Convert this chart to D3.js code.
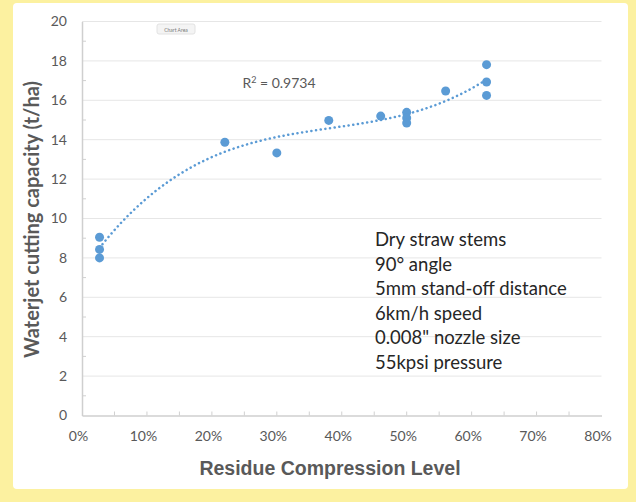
<!DOCTYPE html>
<meta charset="utf-8">
<style>
body { margin: 0; background: #fcf1a0; }
text { font-family: Lato, "Open Sans", sans-serif; }
.tick text { fill: #595959; font-size: 14px; }
.grid line { stroke: #e6e6e6; }
</style>
<svg width="636" height="502"></svg>
<script src="https://d3js.org/d3.v7.min.js"></script>
<script>

// residue compression level (fraction) and cutting capacity (t/ha)
var compression = [0.027, 0.027, 0.027, 0.22, 0.30, 0.38, 0.46, 0.50, 0.50, 0.50, 0.56, 0.623, 0.623, 0.623];
var capacity    = [9.05, 8.43, 8.0, 13.87, 13.33, 14.98, 15.2, 15.39, 15.1, 14.85, 16.47, 17.81, 16.93, 16.25];
var yTicks = [0, 2, 4, 6, 8, 10, 12, 14, 16, 18, 20];
var xTicks = [0, 0.1, 0.2, 0.3, 0.4, 0.5, 0.6, 0.7, 0.8];
var notes = ["Dry straw stems", "90° angle", "5mm stand-off distance", "6km/h speed", "0.008\" nozzle size", "55kpsi pressure"];
var rSquared = "0.9734";

var svg = d3.select("svg"),
    margin = {top: 21.5, right: 34.5, bottom: 86.5, left: 82},
    width = 636 - margin.left - margin.right,
    height = 502 - margin.top - margin.bottom;

svg.append("rect")
    .attr("x", 13).attr("y", 3).attr("width", 615).attr("height", 486)
    .attr("rx", 4).attr("fill", "#fff");

var x = d3.scaleLinear().domain([0, 0.8]).range([0, width]),
    y = d3.scaleLinear().domain([0, 20]).range([height, 0]);

var g = svg.append("g")
    .attr("transform", "translate(" + margin.left + "," + margin.top + ")");

g.append("g")
    .attr("class", "grid")
    .selectAll("line")
    .data(yTicks.slice(1))
    .enter().append("line")
      .attr("x1", 0).attr("x2", width)
      .attr("y1", function(d) { return y(d); })
      .attr("y2", function(d) { return y(d); });

// minor ticks (inside)
g.append("g").selectAll("line")
    .data(d3.range(1, 20, 2))
    .enter().append("line")
      .attr("x1", 0).attr("x2", 4)
      .attr("y1", function(d) { return y(d); }).attr("y2", function(d) { return y(d); })
      .attr("stroke", "#d0d0d0");
g.append("g").selectAll("line")
    .data(d3.range(0.05, 0.8, 0.05))
    .enter().append("line")
      .attr("x1", function(d) { return x(d); }).attr("x2", function(d) { return x(d); })
      .attr("y1", height).attr("y2", height - 4)
      .attr("stroke", "#d0d0d0");

var yAxis = g.append("g")
    .call(d3.axisLeft(y).tickValues(yTicks).tickSize(0).tickPadding(15));
yAxis.select(".domain").attr("stroke", "#cfcfcf").attr("stroke-width", 1.5);

var xAxis = g.append("g")
    .attr("transform", "translate(0," + height + ")")
    .call(d3.axisBottom(x).tickValues(xTicks).tickFormat(d3.format(".0%")).tickSize(0).tickPadding(16));
xAxis.select(".domain").attr("stroke", "#cfcfcf").attr("stroke-width", 1.5);
xAxis.selectAll(".tick text").attr("dx", "-4");

// polynomial (cubic) trendline by least squares
function polyfit(xs, ys, deg) {
  var n = deg + 1, A = [], i, j, k;
  for (i = 0; i < n; i++) {
    A.push([]);
    for (j = 0; j < n; j++) A[i].push(d3.sum(xs, function(v) { return Math.pow(v, i + j); }));
    A[i].push(d3.sum(xs, function(v, m) { return Math.pow(v, i) * ys[m]; }));
  }
  for (i = 0; i < n; i++) {
    for (k = i + 1; k < n; k++) {
      var f = A[k][i] / A[i][i];
      for (j = i; j <= n; j++) A[k][j] -= f * A[i][j];
    }
  }
  var c = new Array(n);
  for (i = n - 1; i >= 0; i--) {
    var s = A[i][n];
    for (j = i + 1; j < n; j++) s -= A[i][j] * c[j];
    c[i] = s / A[i][i];
  }
  return c;
}
var coef = polyfit(compression, capacity, 3);
var xmin = d3.min(compression), xmax = d3.max(compression);
var trend = d3.range(0, 101).map(function(i) {
  var t = xmin + (xmax - xmin) * i / 100;
  return [t, coef[0] + coef[1] * t + coef[2] * t * t + coef[3] * t * t * t];
});

g.append("path")
    .datum(trend)
    .attr("fill", "none")
    .attr("stroke", "#5b9bd5")
    .attr("stroke-width", 2.5)
    .attr("stroke-linecap", "round")
    .attr("stroke-dasharray", "0.1 4.6")
    .attr("d", d3.line().x(function(d) { return x(d[0]); }).y(function(d) { return y(d[1]); }));

g.selectAll(".dot")
    .data(compression)
    .enter().append("circle")
      .attr("class", "dot")
      .attr("cx", function(d) { return x(d); })
      .attr("cy", function(d, i) { return y(capacity[i]); })
      .attr("r", 4.5)
      .attr("fill", "#5b9bd5");

g.append("text")
    .attr("x", x(0.247)).attr("y", y(16.6))
    .attr("fill", "#595959")
    .style("font-size", "14px")
    .html("R<tspan dy='-5' style='font-size:9px'>2</tspan><tspan dy='5'> = " + rSquared + "</tspan>");

// "Chart Area" hover label
svg.append("rect").attr("x", 157).attr("y", 24).attr("width", 38).attr("height", 10)
    .attr("fill", "#f4f4f4").attr("stroke", "#e2e2e2").attr("rx", 2);
svg.append("text").attr("x", 176).attr("y", 31.5).attr("text-anchor", "middle")
    .attr("fill", "#777").style("font-size", "5px").text("Chart Area");

g.append("g").selectAll("text")
    .data(notes)
    .enter().append("text")
      .attr("x", 375 - margin.left)
      .attr("y", function(d, i) { return 240 - margin.top + 6 + i * 24.5; })
      .attr("fill", "#262626")
      .style("font-size", "18.5px")
      .text(function(d) { return d; });

svg.append("text")
    .attr("transform", "translate(39," + 219.5 + ") rotate(-90)")
    .attr("text-anchor", "middle")
    .attr("fill", "#595959")
    .style("font-size", "20px").style("font-weight", "bold")
    .text("Waterjet cutting capacity (t/ha)");

svg.append("text")
    .attr("x", 330).attr("y", 474.5)
    .attr("text-anchor", "middle")
    .attr("fill", "#595959")
    .style("font-family", "'Liberation Sans', Arial, sans-serif")
    .style("font-size", "19.5px").style("font-weight", "bold")
    .text("Residue Compression Level");

</script>
